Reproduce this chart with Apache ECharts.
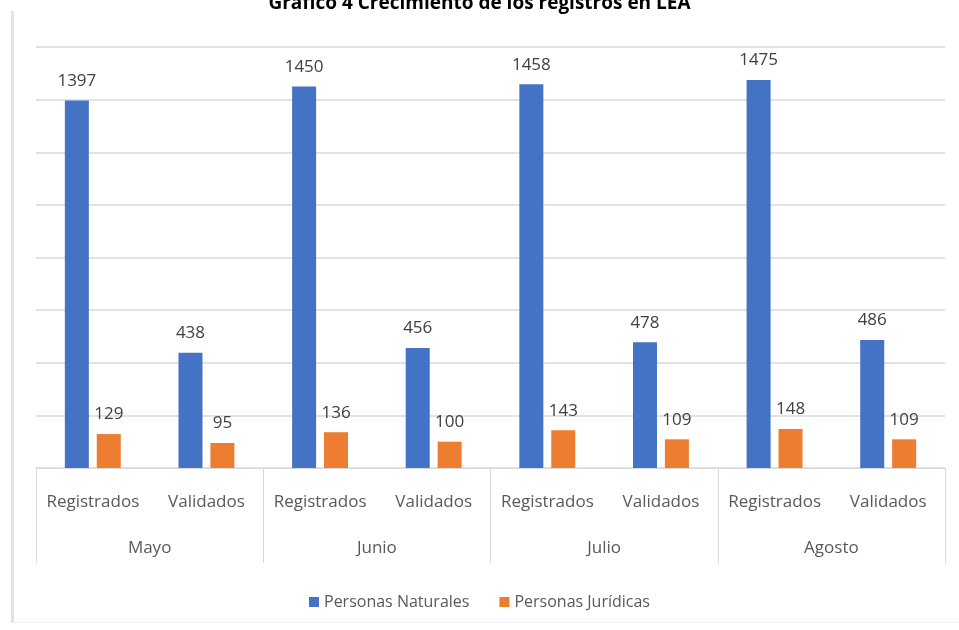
<!DOCTYPE html>
<html>
<head>
<meta charset="utf-8">
<script src="https://cdn.jsdelivr.net/npm/echarts@6/dist/echarts.min.js"></script>
<style>
  html, body { margin: 0; padding: 0; background: #fff; }
  #frame { position: absolute; left: 11px; top: 11px; width: 945px; height: 611px;
           border-left: 3px solid #e3e3e3; border-bottom: 1px solid #eeeeee; }
  #chart { position: absolute; left: 0; top: 0; width: 959px; height: 630px; }
</style>
</head>
<body>
<div id="frame"></div>
<div id="chart"></div>
<script>
  // datos
  var meses = ['Mayo', 'Junio', 'Julio', 'Agosto'];
  var estados = ['Registrados', 'Validados', 'Registrados', 'Validados', 'Registrados', 'Validados', 'Registrados', 'Validados'];
  var naturales = [1397, 438, 1450, 456, 1458, 478, 1475, 486];
  var juridicas = [129, 95, 136, 100, 143, 109, 148, 109];

  var fuente = '"Open Sans", sans-serif';

  var chart = echarts.init(document.getElementById('chart'));
  chart.setOption({
    animation: false,
    title: {
      text: 'Gráfico 4 Crecimiento de los registros en LEA',
      left: 'center',
      top: -11,
      textStyle: { fontSize: 19, fontWeight: 'bold', color: '#000', fontFamily: fuente }
    },
    legend: {
      bottom: 15,
      left: 'center',
      itemWidth: 10,
      itemHeight: 10,
      itemGap: 30,
      icon: 'rect',
      textStyle: { color: '#595959', fontSize: 16, fontFamily: fuente }
    },
    grid: { left: 36, right: 14, top: 47, bottom: 162 },
    xAxis: [
      {
        type: 'category',
        data: estados,
        position: 'bottom',
        axisLine: { lineStyle: { color: '#d9d9d9' } },
        axisTick: { show: false },
        axisLabel: { interval: 0, hideOverlap: false, margin: 26, color: '#595959', fontSize: 17, fontFamily: fuente }
      },
      {
        type: 'category',
        data: meses,
        position: 'bottom',
        axisLine: { show: false },
        axisTick: { show: true, length: 95, lineStyle: { color: '#d9d9d9' } },
        axisLabel: { interval: 0, margin: 72, color: '#595959', fontSize: 17, fontFamily: fuente }
      }
    ],
    yAxis: {
      type: 'value',
      min: 0,
      max: 1600,
      interval: 200,
      axisLabel: { show: false },
      axisLine: { show: false },
      axisTick: { show: false },
      splitLine: { lineStyle: { color: '#d9d9d9', width: 1.5 } }
    },
    series: [
      {
        name: 'Personas Naturales',
        type: 'bar',
        xAxisIndex: 0,
        data: naturales,
        barWidth: 24,
        barGap: '33%',
        itemStyle: { color: '#4472C4' },
        label: { show: true, position: 'top', distance: 11, color: '#404040', fontSize: 17, fontFamily: fuente }
      },
      {
        name: 'Personas Jurídicas',
        type: 'bar',
        xAxisIndex: 0,
        data: juridicas,
        barWidth: 24,
        barGap: '33%',
        itemStyle: { color: '#ED7D31' },
        label: { show: true, position: 'top', distance: 11, color: '#404040', fontSize: 17, fontFamily: fuente }
      }
    ]
  });
</script>
</body>
</html>
